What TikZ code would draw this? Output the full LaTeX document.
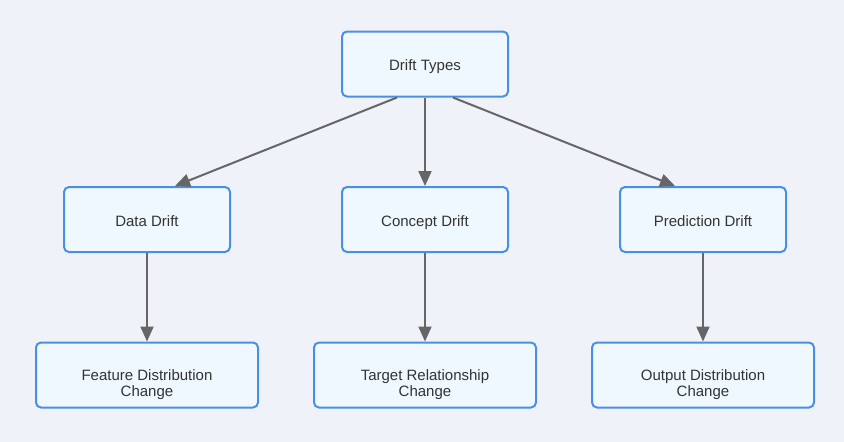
\documentclass[tikz,border=0pt]{standalone}
\usepackage{fontspec}
\setmainfont{Liberation Sans}
\usetikzlibrary{arrows.meta}
\definecolor{bg}{HTML}{EFF3F9}
\definecolor{boxfill}{HTML}{F0F8FF}
\definecolor{boxline}{HTML}{4A90E2}
\definecolor{arrowc}{HTML}{666666}
\definecolor{txt}{HTML}{333333}
\tikzset{
  box/.style={draw=boxline, fill=boxfill, line width=2pt, rounded corners=5pt,
    minimum height=65pt, inner sep=0pt, text=txt, font=\fontsize{15}{16}\selectfont,
    text height=15pt, text depth=2pt},
  boxs/.style={box, minimum width=166pt},
  boxw/.style={box, minimum width=222pt},
  lbl/.style={text=txt, font=\fontsize{15}{16}\selectfont, align=center, inner sep=0pt},
  conn/.style={draw=arrowc, line width=2pt, -{Triangle[length=15pt,width=13pt]}}
}
\begin{document}
\begin{tikzpicture}[x=1pt,y=-1pt]
\useasboundingbox[fill=bg] (0,0) rectangle (844,442);
\node[boxs] (dt) at (425,64) {Drift Types};
\node[boxs] (dd) at (147,219.5) {Data Drift};
\node[boxs] (cd) at (425,219.5) {Concept Drift};
\node[boxs] (pd) at (703,219.5) {Prediction Drift};
\node[boxw] (fd) at (147,375) {};
\node[boxw] (tr) at (425,375) {};
\node[boxw] (od) at (703,375) {};
\node[lbl] (fdt) at (147,385) {Feature Distribution\\Change};
\node[lbl] (trt) at (425,385) {Target Relationship\\Change};
\node[lbl] (odt) at (703,385) {Output Distribution\\Change};
\draw[conn] ([xshift=-28pt]dt.south) -- ([xshift=28pt]dd.north);
\draw[conn] (dt.south) -- (cd.north);
\draw[conn] ([xshift=28pt]dt.south) -- ([xshift=-28pt]pd.north);
\draw[conn] (dd.south) -- (fd.north);
\draw[conn] (cd.south) -- (tr.north);
\draw[conn] (pd.south) -- (od.north);
\end{tikzpicture}
\end{document}
